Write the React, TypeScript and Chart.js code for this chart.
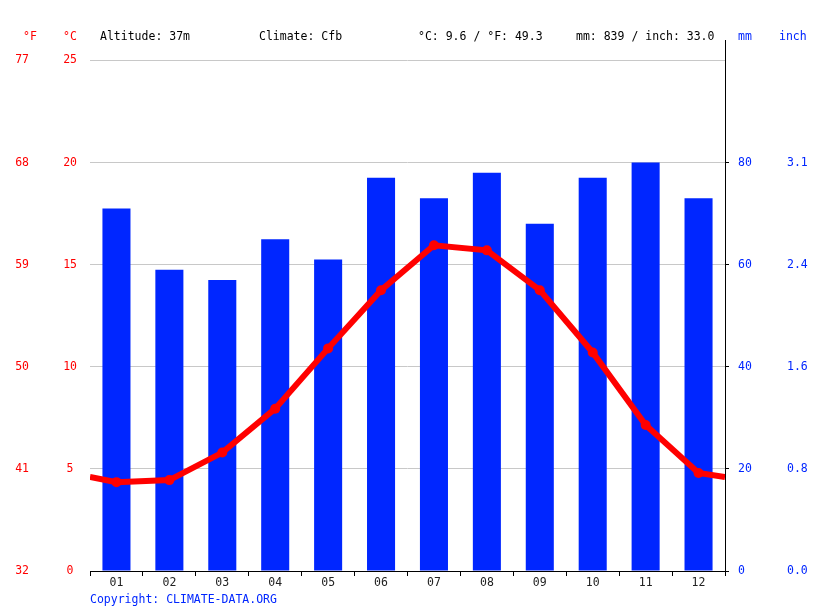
import { useEffect, useRef } from 'react'
import { Chart, registerables } from 'chart.js'

Chart.register(...registerables)

const months = ['01', '02', '03', '04', '05', '06', '07', '08', '09', '10', '11', '12']
const precipitationMm = [71, 59, 57, 65, 61, 77, 73, 78, 68, 77, 80, 73]
const temperatureC = [4.35, 4.45, 5.8, 7.95, 10.9, 13.75, 15.95, 15.7, 13.75, 10.7, 7.15, 4.8]
// value the line has where it leaves the plot on both sides (Dec -> Jan)
const edgeTemperatureC = 4.6
const celsiusTicks = [0, 5, 10, 15, 20, 25]
const mmTicks = [0, 20, 40, 60, 80]

const RED = '#ff0000'
const BLUE = '#0026ff'
const FONT = '"DejaVu Sans Mono", monospace'

const headerItems = [
  { text: '°F', left: 23, color: RED },
  { text: '°C', left: 63, color: RED },
  { text: 'Altitude: 37m', left: 100, color: '#000' },
  { text: 'Climate: Cfb', left: 259, color: '#000' },
  { text: '°C: 9.6 / °F: 49.3', left: 418, color: '#000' },
  { text: 'mm: 839 / inch: 33.0', left: 576, color: '#000' },
  { text: 'mm', left: 738, color: BLUE },
  { text: 'inch', left: 779, color: BLUE },
]

const ClimateChart = () => {
  const canvasRef = useRef<HTMLCanvasElement | null>(null)
  const chartRef = useRef<Chart | null>(null)

  useEffect(() => {
    const ctx = canvasRef.current?.getContext('2d')
    if (!ctx) return
    if (chartRef.current) chartRef.current.destroy()

    const linePoints = [
      { x: 0.5, y: edgeTemperatureC },
      ...temperatureC.map((t, i) => ({ x: i + 1, y: t })),
      { x: 12.5, y: edgeTemperatureC },
    ]
    const pointSizes = linePoints.map((_, i) => (i === 0 || i === linePoints.length - 1 ? 0 : 5))
    const tickFont = { family: FONT, size: 11.5 }

    chartRef.current = new Chart(ctx, {
      type: 'bar',
      data: {
        labels: months,
        datasets: [
          {
            type: 'line',
            data: linePoints,
            xAxisID: 'xl',
            yAxisID: 'y',
            borderColor: RED,
            backgroundColor: RED,
            borderWidth: 6,
            pointRadius: pointSizes,
            pointHoverRadius: pointSizes,
            pointBorderWidth: 0,
            tension: 0,
            order: 0,
          },
          {
            type: 'bar',
            data: precipitationMm,
            xAxisID: 'x',
            yAxisID: 'yMm',
            backgroundColor: BLUE,
            barPercentage: 0.53,
            categoryPercentage: 1,
            grouped: false,
            order: 1,
          },
        ],
      },
      options: {
        responsive: false,
        animation: false,
        layout: { padding: { top: 40, left: 0, right: 0, bottom: 0 } },
        plugins: { legend: { display: false }, tooltip: { enabled: false } },
        scales: {
          x: {
            type: 'category',
            position: 'bottom',
            offset: true,
            afterFit: (s) => {
              s.height = 40
            },
            grid: { offset: true, drawOnChartArea: false, drawTicks: true, tickLength: 5, color: '#000' },
            border: { display: true, color: '#000' },
            ticks: { color: '#222', font: tickFont, padding: 0, maxRotation: 0 },
          },
          xl: { type: 'linear', display: false, offset: false, min: 0.5, max: 12.5 },
          y: {
            position: 'left',
            weight: 0,
            min: 0,
            max: 26,
            afterBuildTicks: (s) => {
              s.ticks = celsiusTicks.map((v) => ({ value: v }))
            },
            afterFit: (s) => {
              s.width = 40
            },
            grid: { color: '#c8c8c8', drawTicks: false },
            border: { display: false },
            ticks: { color: RED, font: tickFont, padding: 13, crossAlign: 'center' },
          },
          yF: {
            position: 'left',
            weight: 1,
            min: 0,
            max: 26,
            afterBuildTicks: (s) => {
              s.ticks = celsiusTicks.map((v) => ({ value: v }))
            },
            afterFit: (s) => {
              s.width = 50
            },
            grid: { display: false },
            border: { display: false },
            ticks: {
              color: RED,
              font: tickFont,
              padding: 13,
              crossAlign: 'center',
              callback: (v) => String(Math.round(Number(v) * 1.8 + 32)),
            },
          },
          yMm: {
            position: 'right',
            weight: 0,
            min: 0,
            max: 104,
            afterBuildTicks: (s) => {
              s.ticks = mmTicks.map((v) => ({ value: v }))
            },
            afterFit: (s) => {
              s.width = 40
            },
            grid: { drawOnChartArea: false, drawTicks: true, tickLength: 4, color: '#000' },
            border: { display: true, color: '#000' },
            ticks: { color: BLUE, font: tickFont, padding: 9 },
          },
          yInch: {
            position: 'right',
            weight: 1,
            min: 0,
            max: 104,
            afterBuildTicks: (s) => {
              s.ticks = mmTicks.map((v) => ({ value: v }))
            },
            afterFit: (s) => {
              s.width = 50
            },
            grid: { display: false },
            border: { display: false },
            ticks: {
              color: BLUE,
              font: tickFont,
              padding: 14,
              callback: (v) => (Number(v) / 25.4).toFixed(1),
            },
          },
        },
      },
    })

    return () => {
      if (chartRef.current) {
        chartRef.current.destroy()
        chartRef.current = null
      }
    }
  }, [])

  return (
    <div style={{ position: 'absolute', left: 0, top: 0, width: 815, height: 611, fontFamily: FONT, fontSize: 11.5 }}>
      <canvas ref={canvasRef} width={815} height={611} style={{ width: 815, height: 611, display: 'block' }} />
      {headerItems.map((h) => (
        <span
          key={h.text}
          style={{ position: 'absolute', top: 29, left: h.left, color: h.color, lineHeight: '14px', whiteSpace: 'pre' }}
        >
          {h.text}
        </span>
      ))}
      <span style={{ position: 'absolute', top: 592, left: 90, color: BLUE, lineHeight: '14px' }}>
        Copyright: CLIMATE-DATA.ORG
      </span>
    </div>
  )
}

export default function App() {
  return <ClimateChart />
}
